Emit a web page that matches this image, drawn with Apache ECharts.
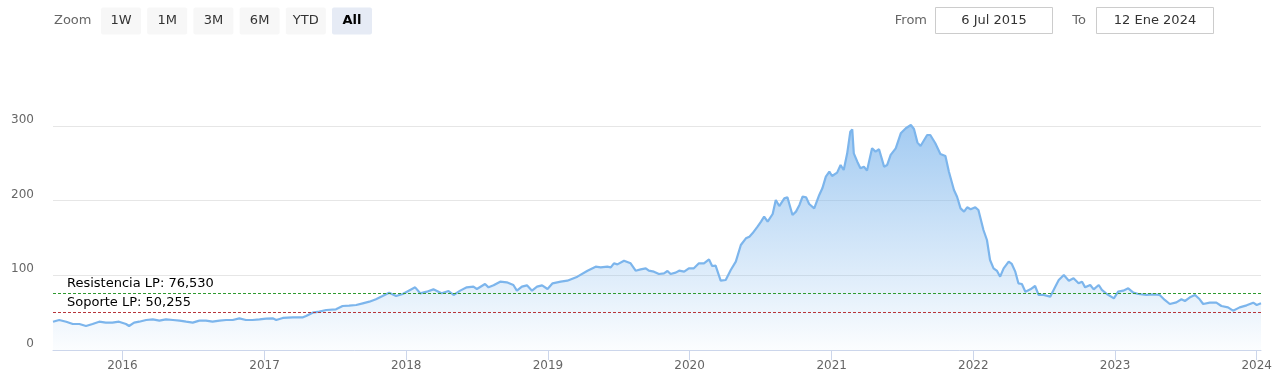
<!DOCTYPE html>
<html>
<head>
<meta charset="utf-8">
<script src="https://cdn.jsdelivr.net/npm/echarts@6/dist/echarts.min.js"></script>
<style>
html,body{margin:0;padding:0;background:#fff;}
#chart{width:1275px;height:383px;}
</style>
</head>
<body>
<div id="chart"></div>
<script>
const dates = [
'2015-07-06','2015-07-22','2015-08-09','2015-08-26','2015-09-12','2015-09-29','2015-10-16','2015-11-02','2015-11-19','2015-12-06','2015-12-23',
'2016-01-10','2016-01-18','2016-01-31','2016-02-05','2016-02-13','2016-03-02','2016-03-19','2016-04-05','2016-04-22','2016-05-10','2016-05-27',
'2016-06-13','2016-06-30','2016-07-17','2016-08-03','2016-08-20','2016-09-07','2016-09-24','2016-10-11','2016-10-28','2016-11-14','2016-12-01','2016-12-19',
'2017-01-05','2017-01-22','2017-01-31','2017-02-17','2017-03-15','2017-04-10','2017-04-18','2017-05-05','2017-05-22','2017-06-09',
'2017-07-04','2017-07-21','2017-08-07','2017-08-25','2017-09-11','2017-09-28','2017-10-15','2017-11-01','2017-11-18','2017-12-06','2017-12-23',
'2018-01-11','2018-01-24','2018-02-06','2018-02-23','2018-03-12','2018-04-02','2018-04-20','2018-05-03','2018-05-20','2018-06-06','2018-06-23',
'2018-07-02','2018-07-23','2018-08-01','2018-08-14','2018-08-31','2018-09-17','2018-10-04','2018-10-13','2018-10-26','2018-11-08','2018-11-21',
'2018-12-04','2018-12-17','2018-12-31',
'2019-01-13','2019-02-03','2019-02-20','2019-03-18','2019-04-13','2019-05-04','2019-05-17','2019-06-03','2019-06-12','2019-06-20','2019-06-29',
'2019-07-16','2019-08-02','2019-08-15','2019-08-28','2019-09-10','2019-09-18','2019-10-01','2019-10-14','2019-10-27','2019-11-05','2019-11-13',
'2019-11-26','2019-12-05','2019-12-18','2019-12-30',
'2020-01-12','2020-01-25','2020-02-07','2020-02-20','2020-02-28','2020-03-08','2020-03-21','2020-04-03','2020-04-16','2020-04-29','2020-05-12',
'2020-05-25','2020-06-03','2020-06-11','2020-06-24','2020-07-03','2020-07-11','2020-07-20','2020-08-02','2020-08-10','2020-08-19','2020-09-01',
'2020-09-09','2020-09-22','2020-10-01','2020-10-10','2020-10-18','2020-10-27','2020-11-04','2020-11-17','2020-11-30','2020-12-08','2020-12-17','2020-12-26',
'2021-01-02','2021-01-15','2021-01-24','2021-02-01','2021-02-10','2021-02-18','2021-02-23','2021-02-27','2021-03-08','2021-03-16','2021-03-25',
'2021-04-02','2021-04-15','2021-04-24','2021-05-03','2021-05-16','2021-05-24','2021-06-02','2021-06-15','2021-06-28','2021-07-11','2021-07-24',
'2021-08-01','2021-08-10','2021-08-18','2021-09-04','2021-09-12','2021-09-25','2021-10-08','2021-10-21','2021-10-30','2021-11-12','2021-11-20',
'2021-11-29','2021-12-08','2021-12-16','2021-12-25',
'2022-01-06','2022-01-14','2022-01-27','2022-02-05','2022-02-13','2022-02-22','2022-03-03','2022-03-11','2022-03-20','2022-04-02','2022-04-10',
'2022-04-19','2022-04-27','2022-05-06','2022-05-15','2022-05-28','2022-06-09','2022-06-18','2022-07-01','2022-07-18','2022-07-31','2022-08-09',
'2022-08-22','2022-09-04','2022-09-16','2022-09-29','2022-10-08','2022-10-16','2022-10-29','2022-11-07','2022-11-20','2022-11-28','2022-12-11','2022-12-29',
'2023-01-09','2023-01-22','2023-02-04','2023-02-17','2023-03-02','2023-03-23','2023-04-09','2023-04-26','2023-05-09','2023-05-22','2023-06-08',
'2023-06-21','2023-06-30','2023-07-13','2023-07-26','2023-08-07','2023-08-16','2023-09-02','2023-09-19','2023-10-02','2023-10-19','2023-11-01',
'2023-11-18','2023-12-06','2023-12-23','2024-01-01','2024-01-12'
];
const values = [
37.9,40.2,37.9,34.8,34.8,32.1,34.8,37.9,36.6,36.6,37.9,
34.8,32.1,36.6,34.8,37.9,40.2,41.1,39.3,41.1,40.2,39.3,
37.9,36.6,39.3,39.3,37.9,39.3,40.2,40.2,42.4,40.2,40.2,41.1,
42.0,42.4,40.2,42.9,43.8,43.8,45.5,50.0,51.3,53.6,
54.5,58.9,59.4,60.3,62.5,64.7,67.9,72.3,76.8,72.3,75.0,
80.4,83.9,75.9,78.1,81.2,75.9,79.0,73.7,79.5,83.9,84.8,
81.7,88.4,83.9,86.6,91.5,90.6,87.0,79.5,84.8,86.6,79.5,
84.8,86.6,81.7,
89.3,91.5,92.8,98.2,106.2,111.6,110.7,111.6,110.7,116.1,114.7,
119.6,116.1,106.2,108.0,109.4,106.2,104.9,101.8,102.7,105.8,101.8,
103.6,106.2,104.9,109.4,
109.4,116.1,116.1,121.4,112.5,112.9,92.8,93.7,107.1,118.3,140.6,
149.5,151.8,156.2,165.2,171.9,178.5,171.9,182.1,200.9,192.8,203.1,
204.5,180.8,185.3,194.2,205.3,204.5,195.5,189.7,207.6,216.5,232.1,238.8,
233.0,237.5,247.8,241.1,263.4,292.4,295.5,263.4,252.2,243.3,245.5,
240.2,270.1,265.6,268.8,245.5,247.8,261.2,270.1,290.2,296.9,301.3,
296.0,277.7,273.2,287.9,287.9,276.8,262.5,259.8,238.8,214.3,205.3,
189.7,185.3,191.1,188.4,
191.1,187.5,160.7,147.3,120.5,109.4,105.8,98.2,109.4,118.3,115.2,
104.9,89.3,88.4,78.1,81.2,85.7,73.7,73.7,71.4,84.8,93.7,
100.4,92.8,96.0,89.3,91.5,83.9,87.0,81.2,87.0,80.4,75.0,69.2,
78.1,79.5,82.6,76.8,75.0,73.7,74.6,73.7,67.0,61.6,63.8,
67.9,65.6,70.5,73.7,67.9,61.6,63.4,63.4,58.9,57.1,52.7,
57.1,59.8,63.4,60.3,62.5
];
const yearTicks = ['2016-01-01','2017-01-01','2018-01-01','2019-01-01','2020-01-01','2021-01-01','2022-01-01','2023-01-01','2024-01-01'];
const yTicks = [0, 100, 200, 300];
const levels = [76.53, 50.255];
const levelLabels = ['Resistencia LP: 76,530', 'Soporte LP: 50,255'];
const levelColors = ['#2f9a2f', '#b8343a'];
const rangeFrom = '2015-07-06';
const rangeTo = '2024-01-12';
const fromText = '6 Jul 2015';
const toText = '12 Ene 2024';
const zoomButtons = ['1W', '1M', '3M', '6M', 'YTD', 'All'];

const FONT = 'DejaVu Sans';
const ts = d => +new Date(d + 'T00:00:00Z');
const seriesData = dates.map((d, i) => [ts(d), values[i]]);
const yearTs = yearTicks.map(ts);

const graphics = [];
graphics.push({type: 'text', x: 54, y: 21, style: {text: 'Zoom', fill: '#666', font: '13px ' + FONT, verticalAlign: 'middle'}});
zoomButtons.forEach((b, i) => {
  const x = 101 + i * 46.2;
  const sel = b === 'All';
  graphics.push({type: 'rect', shape: {x: x, y: 7.5, width: 40, height: 27, r: 2}, style: {fill: sel ? '#e6ebf5' : '#f7f7f7'}});
  graphics.push({type: 'text', x: x + 20, y: 21, style: {text: b, fill: sel ? '#000' : '#333', font: (sel ? 'bold ' : '') + '13px ' + FONT, align: 'center', verticalAlign: 'middle'}});
});
graphics.push({type: 'text', x: 927, y: 20.5, style: {text: 'From', fill: '#666', font: '13px ' + FONT, align: 'right', verticalAlign: 'middle'}});
graphics.push({type: 'rect', shape: {x: 935.5, y: 7.5, width: 117, height: 26}, style: {fill: '#fff', stroke: '#ccc', lineWidth: 1}});
graphics.push({type: 'text', x: 994, y: 20.5, style: {text: fromText, fill: '#333', font: '13px ' + FONT, align: 'center', verticalAlign: 'middle'}});
graphics.push({type: 'text', x: 1086, y: 20.5, style: {text: 'To', fill: '#666', font: '13px ' + FONT, align: 'right', verticalAlign: 'middle'}});
graphics.push({type: 'rect', shape: {x: 1096.5, y: 7.5, width: 117, height: 26}, style: {fill: '#fff', stroke: '#ccc', lineWidth: 1}});
graphics.push({type: 'text', x: 1155, y: 20.5, style: {text: toText, fill: '#333', font: '13px ' + FONT, align: 'center', verticalAlign: 'middle'}});

const chart = echarts.init(document.getElementById('chart'), null, {renderer: 'canvas'});
chart.setOption({
  animation: false,
  backgroundColor: '#fff',
  grid: {left: 53, right: 13, top: 51.3, bottom: 33},
  graphic: graphics,
  xAxis: {
    type: 'value',
    min: ts(rangeFrom),
    max: ts(rangeTo),
    scale: true,
    axisLine: {show: true, lineStyle: {color: '#ccd6eb', width: 1}},
    axisTick: {show: true, length: 10, lineStyle: {color: '#ccd6eb'}, customValues: yearTs},
    axisLabel: {
      customValues: yearTs,
      color: '#666', fontFamily: FONT, fontSize: 12, margin: 10,
      formatter: v => String(new Date(v).getUTCFullYear())
    },
    splitLine: {show: false}
  },
  yAxis: {
    type: 'value',
    min: 0, max: 400, interval: 100,
    axisLine: {show: false},
    axisTick: {show: false},
    axisLabel: {
      color: '#666', fontFamily: FONT, fontSize: 12, margin: 19,
      verticalAlign: 'bottom', showMaxLabel: false,
      formatter: v => (yTicks.indexOf(v) >= 0 ? String(v) : '')
    },
    splitLine: {show: true, showMinLine: false, showMaxLine: false, lineStyle: {color: '#e6e6e6', width: 1}}
  },
  series: [{
    type: 'line',
    data: seriesData,
    showSymbol: false,
    symbol: 'none',
    smooth: false,
    lineStyle: {color: '#7cb5ec', width: 2.2},
    itemStyle: {color: '#7cb5ec'},
    areaStyle: {
      color: new echarts.graphic.LinearGradient(0, 0, 0, 1, [
        {offset: 0, color: 'rgba(124,181,236,1)'},
        {offset: 1, color: 'rgba(124,181,236,0.04)'}
      ])
    },
    markLine: {
      silent: true,
      symbol: ['none', 'none'],
      z: 10,
      data: levels.map((lv, i) => ({
        yAxis: lv,
        lineStyle: {color: levelColors[i], type: [3, 2], width: 1},
        label: {
          show: true,
          position: 'insideStartTop',
          distance: [14, 3],
          formatter: levelLabels[i],
          color: '#000',
          fontFamily: FONT,
          fontSize: 13
        }
      }))
    }
  }]
});
</script>
</body>
</html>
